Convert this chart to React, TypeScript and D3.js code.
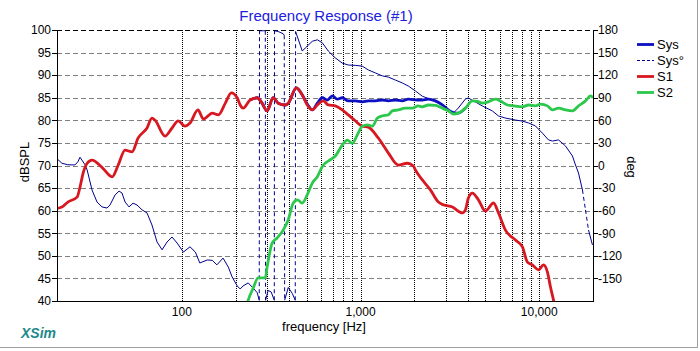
import * as d3 from 'd3';
import { useRef, useEffect } from 'react';

type Pt = [number, number]; // [frequency Hz, value]

// System SPL (dB) – mostly hidden below S1 / S2 where it coincides
const sysDb: Pt[] = [
  [241, 84.5], [264, 85], [281, 83.8], [300, 82.1], [324, 85], [346, 83.8], [379, 83.4], [394, 83.8],
  [437, 87.2], [472, 85.6], [503, 83.6], [537, 82.3], [573, 83.8], [611, 85], [652, 84.5], [695, 85.4],
  [740, 84.7], [790, 85], [854, 84.3], [934, 84.3], [1023, 84.1], [1104, 84.3], [1210, 84.3], [1324, 84.5],
  [1429, 84.3], [1566, 84.5], [1714, 84.3], [1850, 84.7], [2080, 84.5], [2218, 84.5], [2394, 84.7],
  [2624, 84.3], [2870, 83.4], [3100, 82.3], [3396, 81.6], [3527, 81.6], [3864, 82.7],
];

// System phase (deg), wrapped to +-180 as displayed
const sysPhase: Pt[] = [
  [20, 9], [21.3, 3], [23, 1], [25.2, 0.7], [26.2, 5], [26.9, 11], [28.7, 1], [29.5, -6], [31.4, -32.5],
  [33.5, -48.5], [35.7, -55], [38.1, -56.5], [39.6, -52.5], [42.3, -39], [44.5, -34], [46.2, -36.5],
  [48.1, -48.5], [50.6, -55], [53.3, -50], [56.1, -52.5], [59.9, -59], [63.8, -63], [68, -79],
  [72.6, -101.6], [77.5, -112], [82.6, -101.6], [88.1, -95], [94, -103], [102, -115], [111, -108],
  [119, -115], [126, -129.5], [138.5, -125.5], [148, -126], [157, -132], [170, -123], [182, -135],
  [191, -148], [204, -160], [212, -164], [220, -160], [235, -156], [251, -163], [264, -169], [271, -179],
  [272, 179], [274, 179], [285, 179], [293, 179], [294, -179], [304, -166], [316, -168], [329, -179],
  [330, 179], [346, 178], [369, 175], [374, 173], [376, -179], [394, -162], [415, -170], [431, -179],
  [433, 178], [472, 152], [490, 156], [537, 165], [573, 167], [611, 163], [660, 152], [722, 143],
  [790, 136], [854, 133.5], [934, 133], [1023, 132], [1104, 127], [1210, 123], [1324, 119], [1429, 117.5],
  [1566, 113.5], [1714, 109.6], [1850, 105.6], [2028, 99], [2218, 92], [2524, 87], [2870, 80], [3100, 73.7],
  [3307, 69.7], [3527, 76.4], [3864, 88.3], [4014, 89.7], [4281, 86], [4808, 79], [5470, 72.4],
  [5916, 65.8], [6472, 63], [7362, 60.4], [8054, 59], [8710, 56.5], [9528, 52.5], [10420, 43],
  [11272, 34], [11860, 32.5], [12820, 34], [14030, 26], [15350, 12.6], [15960, 0.7], [16594, -10],
  [17460, -32.5], [18155, -59], [18880, -85.7], [19860, -105.6],
];

// Driver S1 SPL (dB)
const s1Db: Pt[] = [
  [20, 60.5], [21.3, 60.8], [23, 61.9], [25.9, 63], [26.9, 65.2], [28, 68.3], [29.5, 70.5], [31.4, 71.2],
  [35.7, 69.6], [40.7, 67.5], [43.9, 70], [48.1, 73.4], [52.6, 73], [56.9, 76.1], [63.8, 78.3], [68, 80.5],
  [70.8, 80], [80.5, 76.5], [88.1, 78.3], [95.3, 79.9], [104, 78.7], [111, 79.4], [123, 82.3], [132, 80.3],
  [148, 81.6], [160, 81.2], [175, 83.8], [189, 86.1], [204, 85], [212, 83.4], [220, 82.7], [241, 84.5],
  [264, 85], [281, 83.8], [300, 82.1], [324, 85], [346, 83.8], [379, 83.4], [394, 83.8], [437, 87.2],
  [472, 85.6], [503, 83.4], [537, 82.3], [573, 83.4], [619, 84.3], [660, 83.4], [722, 83.2], [790, 82.3],
  [854, 81.2], [934, 79.9], [1023, 78.7], [1104, 78.5], [1256, 76.1], [1429, 72.8], [1626, 70.1],
  [1828, 70.5], [1974, 69.9], [2028, 69], [2218, 66.8], [2460, 64.6], [2725, 61.9], [2907, 61.3],
  [3265, 60.8], [3715, 59.5], [3864, 60.2], [4014, 62.8], [4226, 63.9], [4568, 62.4], [5000, 59.9],
  [5546, 61.7], [5916, 59.5], [6472, 55.7], [7362, 53.5], [8054, 52], [8590, 48.6], [9162, 48],
  [9909, 46.9], [10568, 48], [11118, 46.4], [11561, 43.1], [12022, 40.2], [12340, 38],
];

// Driver S2 SPL (dB)
const s2Db: Pt[] = [
  [228, 38.5], [235, 40.2], [251, 42.9], [267, 45.1], [293, 45.1], [300, 47.5], [320, 52.8], [342, 54],
  [369, 55.7], [394, 58], [420, 61.7], [443, 62.4], [472, 61.7], [503, 63.5], [537, 66.1], [573, 67.5],
  [611, 69.8], [660, 71], [722, 72.1], [790, 74.5], [843, 75.6], [900, 74.9], [960, 76.8], [1023, 78.7],
  [1092, 79], [1164, 78.7], [1242, 80.5], [1324, 81], [1429, 81.2], [1506, 82.1], [1626, 82.3],
  [1782, 82.7], [1950, 82.7], [2104, 83.2], [2218, 83], [2394, 83.4], [2624, 83.3], [2870, 82.7],
  [3100, 82.1], [3307, 81.4], [3527, 81.6], [3864, 82.7], [4226, 84.3], [4508, 84.2], [4808, 83.8],
  [5200, 84.1], [5690, 84.7], [6068, 84.3], [6640, 83.4], [7178, 83.2], [8054, 83], [8710, 83.4],
  [9528, 83.2], [10160, 83.6], [11118, 83.2], [11860, 82.3], [12820, 82.7], [14030, 82.3], [15350, 82.1],
  [16594, 83.2], [18155, 84.3], [19364, 85.4], [20000, 85],
];

const dbTicks = [40, 45, 50, 55, 60, 65, 70, 75, 80, 85, 90, 95, 100];
const degTicks = [-150, -120, -90, -60, -30, 0, 30, 60, 90, 120, 150, 180];
const freqGrid = [100, 200, 300, 400, 500, 600, 700, 800, 900, 1000, 2000, 3000, 4000, 5000, 6000, 7000, 8000, 9000, 10000];
const freqLabels = [100, 1000, 10000];
const legendLabels = ['Sys', 'Sys°', 'S1', 'S2'];

const FONT = 'Arial, "Liberation Sans", sans-serif';

const App: React.FC = () => {
  const ref = useRef<SVGSVGElement>(null);

  useEffect(() => {
    if (!ref.current) return;
    const svg = d3.select(ref.current);
    svg.selectAll('*').remove();

    const L = 57, R = 593, T = 30, B = 301;
    const x = d3.scaleLog().domain([20, 20000]).range([L, R]);
    const y = d3.scaleLinear().domain([40, 100]).range([B, T]);
    const yp = d3.scaleLinear().domain([-180, 180]).range([B, T]);
    const crisp = (v: number) => Math.round(v) + 0.5;

    svg.append('rect').attr('width', 700).attr('height', 351).attr('fill', '#fff');

    svg.append('defs').append('clipPath').attr('id', 'plot-clip')
      .append('rect').attr('x', L).attr('y', T).attr('width', R - L).attr('height', B - T);

    // grid
    const grid = svg.append('g');
    grid.selectAll('.hgrid')
      .data(dbTicks.filter(d => d > 40 && d < 100))
      .join('line')
      .attr('x1', L).attr('x2', R)
      .attr('y1', d => crisp(y(d))).attr('y2', d => crisp(y(d)))
      .attr('stroke', '#808080').attr('stroke-dasharray', '5,3');
    grid.selectAll('.vgrid')
      .data(freqGrid)
      .join('line')
      .attr('x1', d => crisp(x(d))).attr('x2', d => crisp(x(d)))
      .attr('y1', T).attr('y2', B)
      .attr('stroke', '#000').attr('stroke-dasharray', '1,1');
    grid.append('line').attr('x1', L).attr('x2', R).attr('y1', crisp(T)).attr('y2', crisp(T))
      .attr('stroke', '#000').attr('stroke-dasharray', '5,3');

    const plot = svg.append('g').attr('clip-path', 'url(#plot-clip)');

    // phase: dashed where segments are steep (like the original GDI dashes)
    const phaseSegs = d3.pairs(sysPhase);
    plot.selectAll('.phase')
      .data(phaseSegs)
      .join('line')
      .attr('x1', d => x(d[0][0])).attr('y1', d => yp(d[0][1]))
      .attr('x2', d => x(d[1][0])).attr('y2', d => yp(d[1][1]))
      .attr('stroke', '#000090').attr('stroke-width', 1)
      .attr('stroke-dasharray', d => {
        const dx = Math.abs(x(d[1][0]) - x(d[0][0]));
        const dy = Math.abs(yp(d[1][1]) - yp(d[0][1]));
        return dy > 4.5 * Math.max(dx, 0.5) || dy > 40 ? '4,3' : null;
      });

    const line = d3.line<Pt>().x(d => x(d[0])).y(d => y(d[1])).curve(d3.curveMonotoneX);
    const series: [Pt[], string][] = [[sysDb, '#0c10c0'], [s1Db, '#d81820'], [s2Db, '#2cc84c']];
    series.forEach(([data, color]) => {
      plot.append('path').datum(data)
        .attr('d', line)
        .attr('fill', 'none').attr('stroke', color).attr('stroke-width', 2.8)
        .attr('stroke-linejoin', 'round');
    });

    // axes frame
    svg.append('line').attr('x1', crisp(L)).attr('x2', crisp(L)).attr('y1', T).attr('y2', B + 1).attr('stroke', '#000');
    svg.append('line').attr('x1', crisp(R)).attr('x2', crisp(R)).attr('y1', T).attr('y2', B + 1).attr('stroke', '#000');
    svg.append('line').attr('x1', L).attr('x2', R + 1).attr('y1', crisp(B)).attr('y2', crisp(B)).attr('stroke', '#000');

    // left ticks + labels
    const left = svg.append('g');
    left.selectAll('line').data(dbTicks).join('line')
      .attr('x1', L - 5).attr('x2', L)
      .attr('y1', d => crisp(y(d))).attr('y2', d => crisp(y(d)))
      .attr('stroke', '#000');
    left.selectAll('text').data(dbTicks).join('text')
      .attr('x', L - 6).attr('y', d => y(d)).attr('dy', '0.36em')
      .attr('text-anchor', 'end').attr('font-size', 12).attr('font-family', FONT)
      .text(d => d);

    // right ticks + labels
    const right = svg.append('g');
    right.selectAll('line').data(degTicks).join('line')
      .attr('x1', R).attr('x2', R + 5)
      .attr('y1', d => crisp(yp(d))).attr('y2', d => crisp(yp(d)))
      .attr('stroke', '#000');
    right.selectAll('text').data(degTicks).join('text')
      .attr('x', R + 5).attr('y', d => yp(d)).attr('dy', '0.36em')
      .attr('font-size', 12).attr('font-family', FONT)
      .text(d => (d < 0 ? '-' + Math.abs(d) : String(d)));

    // bottom labels
    svg.append('g').selectAll('text').data(freqLabels).join('text')
      .attr('x', d => x(d)).attr('y', 316)
      .attr('text-anchor', 'middle').attr('font-size', 12).attr('font-family', FONT)
      .text(d => d3.format(',')(d));

    // titles
    svg.append('text').attr('x', 326).attr('y', 21).attr('text-anchor', 'middle')
      .attr('font-size', 15).attr('font-family', FONT).attr('fill', '#2020e0')
      .text('Frequency Response (#1)');
    svg.append('text').attr('x', 324).attr('y', 331).attr('text-anchor', 'middle')
      .attr('font-size', 13).attr('font-family', FONT).text('frequency [Hz]');
    svg.append('text').attr('transform', 'translate(29,162) rotate(-90)').attr('text-anchor', 'middle')
      .attr('font-size', 13).attr('font-family', FONT).text('dBSPL');
    svg.append('text').attr('transform', 'translate(627,167) rotate(90)').attr('text-anchor', 'middle')
      .attr('font-size', 13).attr('font-family', FONT).text('deg');
    svg.append('text').attr('x', 21).attr('y', 338)
      .attr('font-size', 14).attr('font-weight', 'bold').attr('font-style', 'italic')
      .attr('font-family', FONT).attr('fill', '#1e8a8a').text('XSim');

    // legend
    const legendStyles = [
      { color: '#0c10c0', width: 2.8, dash: null },
      { color: '#000090', width: 1, dash: '3,2' },
      { color: '#d81820', width: 2.8, dash: null },
      { color: '#2cc84c', width: 2.8, dash: null },
    ];
    const lg = svg.append('g');
    legendLabels.forEach((label, i) => {
      const ly = 44 + i * 16;
      const st = legendStyles[i];
      lg.append('line').attr('x1', 637).attr('x2', 654).attr('y1', ly + 0.5).attr('y2', ly + 0.5)
        .attr('stroke', st.color).attr('stroke-width', st.width)
        .attr('stroke-dasharray', st.dash);
      lg.append('text').attr('x', 657).attr('y', ly).attr('dy', '0.36em')
        .attr('font-size', 13).attr('font-family', FONT).text(label);
    });

    // outer frame
    svg.append('line').attr('x1', 0).attr('x2', 698).attr('y1', 347.5).attr('y2', 347.5).attr('stroke', '#a0a0a0');
    svg.append('line').attr('x1', 697.5).attr('x2', 697.5).attr('y1', 0).attr('y2', 348).attr('stroke', '#a0a0a0');
  }, []);

  return (
    <svg ref={ref} width={700} height={351} style={{ position: 'absolute', left: 0, top: 0, display: 'block' }} />
  );
};

export default App;
